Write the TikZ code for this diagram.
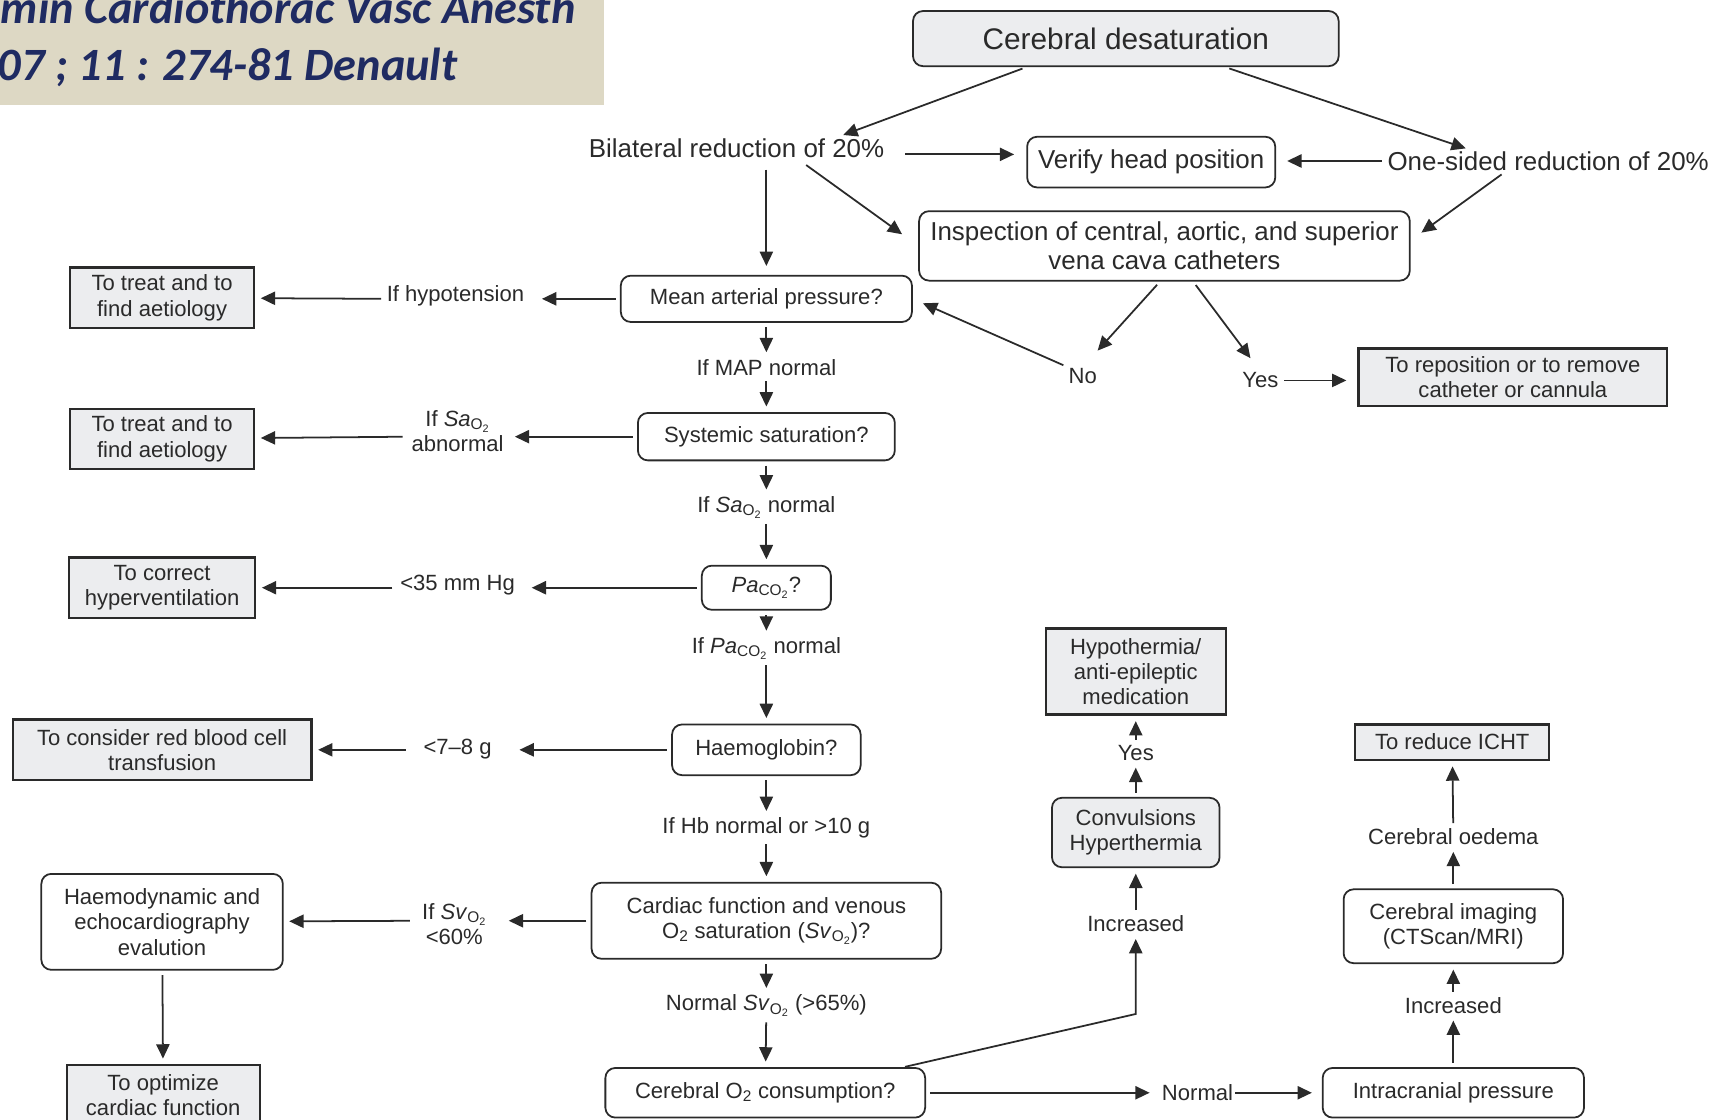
\documentclass[tikz,border=0pt]{standalone}
\usepackage{fontspec}
\setmainfont{Liberation Sans}
\newfontfamily\bannerfont{Carlito}
\usetikzlibrary{arrows.meta,positioning,calc}
\definecolor{boxgray}{HTML}{ECEDEF}
\definecolor{bannertan}{HTML}{DDD8C4}
\definecolor{bannerblue}{HTML}{1F2B62}
\definecolor{ink}{HTML}{2A2A2A}
\newcommand{\gas}[2]{\textit{#1}\textsubscript{#2\textsubscript{2}}}
\newcommand{\bigtxt}{\fontsize{23.5}{26}\selectfont}

\begin{document}
\begin{tikzpicture}[x=1pt,y=1pt,
  every node/.style={text=ink,font=\fontsize{20}{23}\selectfont},
  qbox/.style={draw=ink,line width=1.6pt,rounded corners=9pt,fill=white,align=center,inner sep=2pt},
  gbox/.style={qbox,fill=boxgray},
  abox/.style={draw=ink,line width=2pt,fill=boxgray,align=center,inner sep=2pt},
  lbl/.style={inner sep=1pt,align=center},
  arr/.style={draw=ink,line width=1.6pt,-{Triangle[length=13pt,width=12pt]},shorten >=5pt,shorten <=4pt}]
  \useasboundingbox (0,0) rectangle (1568,-1015);

  % journal banner
  \fill[bannertan] (0,0) rectangle (548,-95);
  \node[anchor=base east,inner sep=0pt,text=bannerblue,font=\bannerfont\fontsize{42}{46}\selectfont\bfseries\itshape] (jrnl) at (522,-21) {min Cardiothorac Vasc Anesth};
  \node[anchor=base east,inner sep=0pt,text=bannerblue,font=\bannerfont\fontsize{42}{46}\selectfont\bfseries\itshape] (cite) at (415,-73) {07 ; 11 : 274-81 Denault};

  % top of the chart
  \node[gbox,minimum width=386pt,minimum height=50pt,font=\fontsize{27}{30}\selectfont] (desat) at (1021,-35) {Cerebral desaturation};
  \node[lbl,font=\bigtxt] (bilat) at (668,-134) {Bilateral reduction of 20\%};
  \node[lbl,font=\bigtxt] (onesided) at (1404,-146) {One-sided reduction of 20\%};
  \node[qbox,minimum width=225pt,minimum height=46pt,font=\bigtxt] (verify) at (1044,-147) {Verify head position};
  \node[qbox,minimum width=445pt,minimum height=63pt,font=\bigtxt] (insp) at (1056,-223) {Inspection of central, aortic, and superior\\vena cava catheters};
  \node[lbl] (no) at (982,-341) {No};
  \node[lbl] (yesA) at (1143,-345) {Yes};
  \node[abox,minimum width=280pt,minimum height=52pt] (repos) at (1372,-342) {To reposition or to remove\\catheter or cannula};

  % main column
  \node[qbox,minimum width=264pt,minimum height=42pt] (map) at (695,-271) {Mean arterial pressure?};
  \node[lbl] (mapok) at (695,-333) {If MAP normal};
  \node[qbox,minimum width=233pt,minimum height=43pt] (sys) at (695,-396) {Systemic saturation?};
  \node[lbl] (saok) at (695,-460) {If \gas{Sa}{O} normal};
  \node[qbox,minimum width=117pt,minimum height=40pt] (paco) at (695,-533) {\gas{Pa}{CO}?};
  \node[lbl] (pacook) at (695,-588) {If \gas{Pa}{CO} normal};
  \node[qbox,minimum width=171pt,minimum height=46pt] (hb) at (695,-680) {Haemoglobin?};
  \node[lbl] (hbok) at (695,-751) {If Hb normal or >10 g};
  \node[qbox,minimum width=317pt,minimum height=69pt] (card) at (695,-835) {Cardiac function and venous\\O\textsubscript{2} saturation (\gas{Sv}{O})?};
  \node[lbl] (svok) at (695,-912) {Normal \gas{Sv}{O} (>65\%)};
  \node[qbox,minimum width=290pt,minimum height=45pt] (cmro) at (694,-991) {Cerebral O\textsubscript{2} consumption?};

  % left column
  \node[lbl] (hypo) at (413,-268) {If hypotension};
  \node[abox,minimum width=167pt,minimum height=55pt] (treatA) at (147,-270) {To treat and to\\find aetiology};
  \node[lbl] (saab) at (415,-391) {If \gas{Sa}{O}\\abnormal};
  \node[abox,minimum width=167pt,minimum height=54pt] (treatB) at (147,-398) {To treat and to\\find aetiology};
  \node[lbl] (lowco) at (415,-531) {<35 mm Hg};
  \node[abox,minimum width=169pt,minimum height=55pt] (hyper) at (147,-533) {To correct\\hyperventilation};
  \node[lbl] (lowhb) at (415,-679) {<7--8 g};
  \node[abox,minimum width=271pt,minimum height=55pt] (rbc) at (147,-680) {To consider red blood cell\\transfusion};
  \node[lbl] (svlow) at (412,-838) {If \gas{Sv}{O}\\<60\%};
  \node[qbox,minimum width=219pt,minimum height=87pt] (haemo) at (147,-836) {Haemodynamic and\\echocardiography\\evalution};
  \node[abox,minimum width=175pt,minimum height=54pt] (optim) at (148,-993) {To optimize\\cardiac function};

  % right side
  \node[lbl] (incA) at (1030,-838) {Increased};
  \node[gbox,minimum width=152pt,minimum height=63pt] (conv) at (1030,-755) {Convulsions\\Hyperthermia};
  \node[lbl] (yesB) at (1030,-683) {Yes};
  \node[abox,minimum width=163pt,minimum height=78pt] (hypoth) at (1030,-609) {Hypothermia/\\anti-epileptic\\medication};
  \node[lbl] (normal) at (1086,-991) {Normal};
  \node[qbox,minimum width=237pt,minimum height=45pt] (icp) at (1318,-991) {Intracranial pressure};
  \node[lbl] (incB) at (1318,-912) {Increased};
  \node[qbox,minimum width=199pt,minimum height=67pt] (imag) at (1318,-840) {Cerebral imaging\\(CTScan/MRI)};
  \node[lbl] (oedema) at (1318,-759) {Cerebral oedema};
  \node[abox,minimum width=176pt,minimum height=32pt] (icht) at (1317,-673) {To reduce ICHT};

  % connectors, top
  \draw[arr] ([xshift=-90pt]desat.south) -- ([xshift=92pt]bilat.north);
  \draw[arr] ([xshift=90pt]desat.south) -- ([xshift=-70pt]onesided.north);
  \draw[arr,shorten <=18pt,shorten >=11pt] ([yshift=-6pt]bilat.east) -- ([yshift=-6pt]bilat.east -| verify.west);
  \draw[arr,shorten >=10pt] (onesided.west) -- (onesided.west -| verify.east);
  \draw[arr,shorten <=10pt,shorten >=8pt] (bilat.south -| map.north) -- (map.north);
  \draw[arr,shorten <=10pt,shorten >=18pt] ([xshift=55pt]bilat.south) -- (insp.west);
  \draw[arr,shorten >=12pt] ([xshift=-39pt]onesided.south) -- ([yshift=5pt]insp.east);
  \draw[arr,shorten >=20pt] ([xshift=-4pt]insp.south) -- (no.north);
  \draw[arr,shorten >=15pt] ([xshift=26pt]insp.south) -- (yesA.north);
  \draw[arr,shorten >=10pt] (no.north west) -- (map.east);
  \draw[arr,shorten >=10pt] (yesA.east) -- (yesA.east -| repos.west);

  % main column
  \draw[arr] (map) -- (mapok);
  \draw[arr] (mapok) -- (sys);
  \draw[arr] (sys) -- (saok);
  \draw[arr] (saok) -- (paco);
  \draw[arr] (paco) -- (pacook);
  \draw[arr] (pacook) -- (hb);
  \draw[arr] (hb) -- (hbok);
  \draw[arr] (hbok) -- (card);
  \draw[arr] (card) -- (svok);
  \draw[arr] (svok) -- (cmro);

  % to the left
  \draw[arr,shorten >=15pt] (map) -- (map -| hypo.east);
  \draw[arr] (hypo.west |- map) -- (treatA);
  \draw[arr,shorten >=9pt] (sys) -- (sys -| saab.east);
  \draw[arr,shorten <=7pt] (saab.west |- sys) -- (treatB);
  \draw[arr,shorten >=14pt] (paco) -- (paco -| lowco.east);
  \draw[arr,shorten <=6pt] (lowco.west |- paco) -- (hyper);
  \draw[arr,shorten >=24pt] (hb) -- (hb -| lowhb.east);
  \draw[arr,shorten <=15pt] (lowhb.west |- hb) -- (rbc);
  \draw[arr,shorten >=19pt] (card) -- (card -| svlow.east);
  \draw[arr,shorten <=10pt] (svlow.west |- card) -- (haemo);
  \draw[arr] (haemo) -- (optim);

  % to the right
  \draw[arr,shorten <=1pt] ([xshift=-20pt]cmro.north east) -- ([yshift=-73pt]incA.south) -- (incA);
  \draw[arr] (incA) -- (conv);
  \draw[arr] (conv) -- (yesB);
  \draw[arr] (yesB) -- (hypoth);
  \draw[arr,shorten >=10pt] (cmro) -- (normal);
  \draw[arr,shorten <=1pt,shorten >=9pt] (normal) -- (icp);
  \draw[arr] (icp) -- (incB);
  \draw[arr] (incB) -- (imag);
  \draw[arr] (imag) -- (oedema);
  \draw[arr] (oedema) -- (icht);
\end{tikzpicture}
\end{document}
